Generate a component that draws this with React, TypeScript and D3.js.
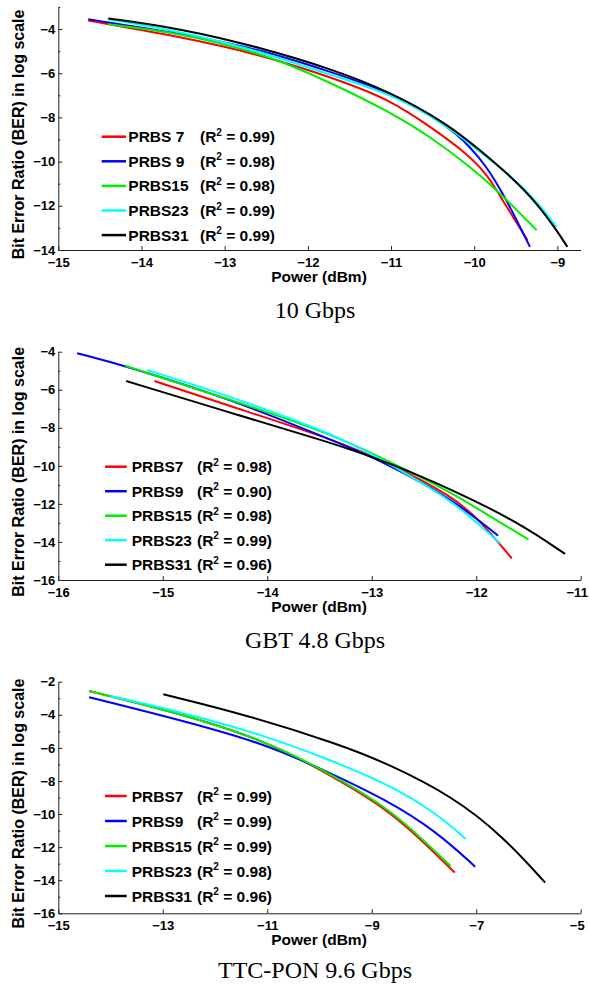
import React, { useEffect, useRef } from 'react';
import * as d3 from 'd3';

type Pt = [number, number];

const SERIES_COLORS = ['#ff0000', '#0000ff', '#00ee00', '#00ffff', '#000000'];
const FONT = '"Liberation Sans", Arial, Helvetica, sans-serif';

// --- 10 Gbps ---
const names10 = ['PRBS 7', 'PRBS 9', 'PRBS15', 'PRBS23', 'PRBS31'];
const r2_10 = ['0.99', '0.98', '0.98', '0.99', '0.99'];
const red10: Pt[] = [[-14.64, -3.62], [-13.54, -4.35], [-12.54, -5.18], [-11.62, -6.31], [-11.01, -7.21], [-10.53, -8.42], [-10.14, -9.48], [-9.85, -10.52], [-9.66, -11.74], [-9.49, -12.78], [-9.36, -13.55]];
const blue10: Pt[] = [[-14.64, -3.56], [-13.54, -4.2], [-12.54, -4.95], [-11.74, -5.93], [-11.01, -6.84], [-10.33, -8.34], [-10.05, -9.33], [-9.85, -10.23], [-9.66, -11.42], [-9.49, -12.64], [-9.33, -13.86]];
const green10: Pt[] = [[-14.4, -3.79], [-13.54, -4.18], [-12.54, -5.09], [-11.74, -6.4], [-11.01, -7.76], [-10.53, -8.87], [-10.05, -10.23], [-9.73, -11.29], [-9.49, -12.19], [-9.25, -13.1]];
const cyan10: Pt[] = [[-14.4, -3.56], [-13.54, -4.1], [-12.54, -5.03], [-11.74, -6.08], [-11.01, -6.9], [-10.33, -8.34], [-9.93, -9.57], [-9.54, -10.7], [-9.21, -11.96], [-9.01, -12.96]];
const black10: Pt[] = [[-14.4, -3.52], [-13.54, -3.97], [-12.54, -4.87], [-11.74, -5.78], [-11.01, -6.84], [-10.33, -8.27], [-9.93, -9.48], [-9.54, -10.74], [-9.25, -11.87], [-9.01, -13.1], [-8.88, -13.86]];
const xTicks10 = [-15, -14, -13, -12, -11, -10, -9];
const yTicks10 = [-14, -12, -10, -8, -6, -4];

// --- GBT 4.8 Gbps ---
const namesGbt = ['PRBS7', 'PRBS9', 'PRBS15', 'PRBS23', 'PRBS31'];
const r2Gbt = ['0.98', '0.90', '0.98', '0.99', '0.96'];
const redGbt: Pt[] = [[-15.08, -5.54], [-14.39, -6.8], [-13.4, -8.55], [-12.86, -9.78], [-12.22, -11.62], [-11.97, -12.84], [-11.66, -14.86]];
const blueGbt: Pt[] = [[-15.82, -4.08], [-15.36, -4.74], [-14.39, -6.42], [-13.5, -8.38], [-12.86, -9.83], [-12.22, -11.79], [-11.79, -13.67]];
const greenGbt: Pt[] = [[-15.36, -4.74], [-14.39, -6.45], [-13.4, -8.29], [-12.86, -9.69], [-12.22, -11.44], [-11.84, -12.76], [-11.5, -13.86]];
const cyanGbt: Pt[] = [[-15.15, -4.96], [-14.39, -6.28], [-13.4, -8.24], [-12.86, -9.78], [-12.22, -11.88], [-11.97, -13.11], [-11.77, -14.07]];
const blackGbt: Pt[] = [[-15.35, -5.54], [-14.39, -7.15], [-13.4, -8.76], [-12.86, -9.78], [-12.22, -11.27], [-11.58, -13.02], [-11.15, -14.63]];
const xTicksGbt = [-16, -15, -14, -13, -12, -11];
const yTicksGbt = [-16, -14, -12, -10, -8, -6, -4];

// --- TTC-PON 9.6 Gbps ---
const namesTtc = ['PRBS7', 'PRBS9', 'PRBS15', 'PRBS23', 'PRBS31'];
const r2Ttc = ['0.99', '0.99', '0.99', '0.98', '0.96'];
const redTtc: Pt[] = [[-14.41, -2.56], [-12.67, -3.91], [-11.08, -5.52], [-9.99, -7.29], [-8.71, -9.65], [-7.95, -11.87], [-7.41, -13.54]];
const blueTtc: Pt[] = [[-14.41, -2.94], [-12.67, -4.31], [-11.08, -5.72], [-9.99, -7.23], [-8.71, -9.15], [-7.76, -11.06], [-7.02, -13.18]];
const greenTtc: Pt[] = [[-14.41, -2.56], [-12.67, -3.91], [-11.08, -5.52], [-9.99, -7.23], [-8.71, -9.55], [-7.95, -11.76], [-7.49, -13.14]];
const cyanTtc: Pt[] = [[-14.01, -2.86], [-12.67, -3.81], [-11.08, -5.22], [-9.99, -6.49], [-8.71, -8.14], [-7.76, -9.95], [-7.2, -11.51]];
const blackTtc: Pt[] = [[-12.99, -2.76], [-11.39, -4.01], [-9.61, -5.8], [-8.71, -6.93], [-7.44, -8.95], [-6.48, -11.37], [-5.68, -14.15]];
const xTicksTtc = [-15, -13, -11, -9, -7, -5];
const yTicksTtc = [-16, -14, -12, -10, -8, -6, -4, -2];

const panels = [
  {
    caption: '10 Gbps', names: names10, r2: r2_10,
    series: [red10, blue10, green10, cyan10, black10],
    xDomain: [-15, -8.72], yDomain: [-14, -3], xTicks: xTicks10, yTicks: yTicks10,
    top: 6.9, bottom: 250,
    legend: { x0: 101.7, x1: 126, nameX: 128.3, r2X: 200, y0: 136.7, dy: 24.6 },
    captionY: 318,
  },
  {
    caption: 'GBT 4.8 Gbps', names: namesGbt, r2: r2Gbt,
    series: [redGbt, blueGbt, greenGbt, cyanGbt, blackGbt],
    xDomain: [-16, -11], yDomain: [-16, -4], xTicks: xTicksGbt, yTicks: yTicksGbt,
    top: 351.7, bottom: 580,
    legend: { x0: 105, x1: 126.7, nameX: 131.7, r2X: 197, y0: 466.7, dy: 24.5 },
    captionY: 648,
  },
  {
    caption: 'TTC-PON 9.6 Gbps', names: namesTtc, r2: r2Ttc,
    series: [redTtc, blueTtc, greenTtc, cyanTtc, blackTtc],
    xDomain: [-15, -5], yDomain: [-16, -2], xTicks: xTicksTtc, yTicks: yTicksTtc,
    top: 681.7, bottom: 913.3,
    legend: { x0: 105, x1: 126.7, nameX: 131.7, r2X: 197, y0: 796, dy: 25 },
    captionY: 978,
  },
];

const LEFT = 58.3;
const RIGHT = 580.7;

const App = () => {
  const svgRef = useRef<SVGSVGElement>(null);

  useEffect(() => {
    const svg = d3.select(svgRef.current);
    svg.selectAll('*').remove();

    panels.forEach((p) => {
      const g = svg.append('g');
      const x = d3.scaleLinear().domain(p.xDomain).range([LEFT, RIGHT]);
      const y = d3.scaleLinear().domain(p.yDomain).range([p.bottom, p.top]);
      const fmt = (d: d3.NumberValue) => d3.format('d')(d as number);

      // x axis, ticks point inward
      const xa = g.append('g')
        .attr('transform', `translate(0,${p.bottom})`)
        .call(d3.axisBottom(x).tickValues(p.xTicks).tickSize(-4).tickSizeOuter(0).tickPadding(7.5).tickFormat(fmt));
      // keep the right-most label inside the page
      xa.selectAll<SVGTextElement, number>('text').attr('dx', (d) => (x(d) > 575 ? -4 : 0));
      // y axis
      const ya = g.append('g')
        .attr('transform', `translate(${LEFT},0)`)
        .call(d3.axisLeft(y).tickValues(p.yTicks).tickSize(-4).tickSizeOuter(0).tickPadding(3).tickFormat(fmt));
      // minor y ticks on odd values
      const minor = d3.range(Math.ceil(p.yDomain[0]), Math.floor(p.yDomain[1]) + 1).filter((v) => v % 2 !== 0);
      const ym = g.append('g')
        .attr('transform', `translate(${LEFT},0)`)
        .call(d3.axisLeft(y).tickValues(minor).tickSize(-2).tickFormat(() => ''));
      ym.select('.domain').remove();

      [xa, ya, ym].forEach((a) => {
        a.selectAll('path,line').attr('stroke', '#222').attr('stroke-width', 1);
        a.selectAll('text')
          .attr('fill', '#000')
          .style('font-family', FONT)
          .style('font-weight', 'bold')
          .style('font-size', '13px');
      });

      // curves
      const line = d3.line<Pt>()
        .x((d) => x(d[0]))
        .y((d) => y(d[1]))
        .curve(d3.curveBasis);
      p.series.forEach((s, i) => {
        g.append('path')
          .attr('d', line(s))
          .attr('fill', 'none')
          .attr('stroke', SERIES_COLORS[i])
          .attr('stroke-width', 2);
      });

      // legend
      const L = p.legend;
      p.names.forEach((name, i) => {
        const ry = L.y0 + i * L.dy;
        g.append('line')
          .attr('x1', L.x0).attr('x2', L.x1)
          .attr('y1', ry).attr('y2', ry)
          .attr('stroke', SERIES_COLORS[i]).attr('stroke-width', 2.5);
        g.append('text')
          .attr('x', L.nameX).attr('y', ry + 5.5)
          .style('font-family', FONT).style('font-weight', 'bold').style('font-size', '15.5px')
          .text(name);
        const t = g.append('text')
          .attr('x', L.r2X).attr('y', ry + 5.5)
          .style('font-family', FONT).style('font-weight', 'bold').style('font-size', '15.5px');
        t.append('tspan').text('(R');
        t.append('tspan').attr('dy', -6.5).style('font-size', '10px').text('2');
        t.append('tspan').attr('dy', 6.5).text(` = ${p.r2[i]})`);
      });

      // axis titles
      g.append('text')
        .attr('x', 319).attr('y', p.bottom + 32)
        .attr('text-anchor', 'middle')
        .style('font-family', FONT).style('font-weight', 'bold').style('font-size', '15.5px')
        .text('Power (dBm)');
      g.append('text')
        .attr('transform', `translate(24,${(p.top + p.bottom) / 2 + 6}) rotate(-90)`)
        .attr('text-anchor', 'middle')
        .style('font-family', FONT).style('font-weight', 'bold').style('font-size', '16px')
        .text('Bit Error Ratio (BER) in log scale');

      // caption
      g.append('text')
        .attr('x', 315).attr('y', p.captionY)
        .attr('text-anchor', 'middle')
        .style('font-family', '"Liberation Serif", "Times New Roman", serif')
        .style('font-size', '24px')
        .text(p.caption);
    });
  }, []);

  return (
    <svg ref={svgRef} width={589} height={990}
      style={{ position: 'absolute', left: 0, top: 0, background: '#fff' }} />
  );
};

export default App;
